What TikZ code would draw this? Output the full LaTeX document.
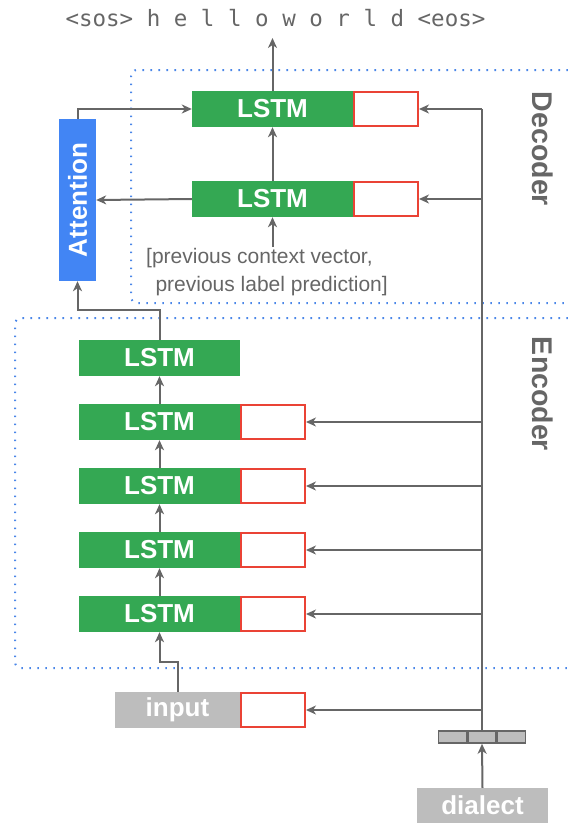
\documentclass[tikz,border=0pt]{standalone}
\usepackage{fontspec}
\setmainfont{Liberation Sans}
\newfontfamily\monofont{DejaVu Sans Mono}
\usetikzlibrary{arrows.meta}
\definecolor{lstmgreen}{HTML}{34A853}
\definecolor{attblue}{HTML}{4285F4}
\definecolor{boxred}{HTML}{EA4335}
\definecolor{inpgray}{HTML}{BDBDBD}
\definecolor{linegray}{HTML}{666666}
\definecolor{dotblue}{HTML}{4A86E8}
\tikzset{
  lstm/.style={fill=lstmgreen, text=white, minimum width=161pt, minimum height=36pt,
    inner sep=0pt, font=\fontsize{26}{30}\selectfont\bfseries},
  redbox/.style={draw=boxred, line width=1.8pt, fill=white, minimum width=64pt,
    minimum height=34.5pt, inner sep=0pt},
  graybox/.style={fill=inpgray, text=white, minimum height=36pt, inner sep=0pt,
    font=\fontsize{26}{30}\selectfont\bfseries},
  embcell/.style={draw=linegray, line width=1.6pt, fill=inpgray, minimum width=28pt,
    minimum height=12pt, inner sep=0pt},
  conn/.style={draw=linegray, line width=2pt, -{Stealth[length=10pt,width=9pt,inset=3pt]}},
  wire/.style={draw=linegray, line width=2pt},
  region/.style={draw=dotblue, line width=2pt, dash pattern=on 1.6pt off 6.4pt, rounded corners=6pt},
  sidelabel/.style={text=linegray, rotate=-90, font=\fontsize{28.5}{32}\selectfont\bfseries},
}
\begin{document}
\begin{tikzpicture}[x=1pt, y=-1pt]
\useasboundingbox (0,0) rectangle (568,823);

% dotted regions for decoder and encoder
\draw[region] (568,70) -- (131,70) -- (131,303) -- (568,303);
\draw[region] (568,318) -- (15,318) -- (15,668) -- (568,668);
\node[sidelabel] (declab) at (543,149) {Decoder};
\node[sidelabel] (enclab) at (543,394) {Encoder};

% output transcript
\node[text=linegray, font=\monofont\fontsize{22.5}{26}\selectfont, inner sep=0pt]
  (out) at (275.5,18) {<sos> h e l l o w o r l d <eos>};
\coordinate (outtip) at (272.5,38);

% decoder
\node[lstm] (dl1) at (272.5,109) {LSTM};
\node[redbox, anchor=west] (rd1) at (dl1.east) {};
\node[lstm] (dl2) at (272.5,199) {LSTM};
\node[redbox, anchor=west] (rd2) at (dl2.east) {};
\node[text=linegray, font=\fontsize{21}{28}\selectfont, align=left, inner sep=0pt]
  (ctx) at (267,272) {[previous context vector,\\\ \,previous label prediction]};
\coordinate (ctxtop) at (272.5,247);

% attention
\node[fill=attblue, text=white, minimum width=162pt, minimum height=37pt, inner sep=0pt,
  rotate=90, font=\fontsize{26}{30}\selectfont\bfseries] (att) at (77.5,200) {Attention};

% encoder stack
\node[lstm] (el0) at (159.5,358) {LSTM};
\node[lstm] (el1) at (159.5,422) {LSTM};
\node[redbox, anchor=west] (re1) at (el1.east) {};
\node[lstm] (el2) at (159.5,486) {LSTM};
\node[redbox, anchor=west] (re2) at (el2.east) {};
\node[lstm] (el3) at (159.5,550) {LSTM};
\node[redbox, anchor=west] (re3) at (el3.east) {};
\node[lstm] (el4) at (159.5,614) {LSTM};
\node[redbox, anchor=west] (re4) at (el4.east) {};

% input
\node[graybox, minimum width=125pt] (inp) at (177.5,710) {input};
\node[redbox, anchor=west] (rin) at (inp.east) {};

% dialect embedding
\node[embcell] (emb2) at (482,737) {};
\node[embcell, anchor=east] (emb1) at (emb2.west) {};
\node[embcell, anchor=west] (emb3) at (emb2.east) {};
\node[graybox, minimum width=131pt, minimum height=35pt] (dia) at (482.5,805.5) {dialect};

% decoder connections
\draw[conn] (dl1.north) -- (outtip);
\draw[conn] (dl2.north) -- (dl1.south);
\draw[conn] (ctxtop) -- (dl2.south);
\draw[conn] (att.east) |- (dl1.west);
\draw[conn] (dl2.west) -- (att.south);

% encoder to attention
\coordinate (encbend) at (159.5,310);
\draw[conn] (el0.north) -- (encbend) -| (att.west);

% encoder stack connections
\draw[conn] (el1.north) -- (el0.south);
\draw[conn] (el2.north) -- (el1.south);
\draw[conn] (el3.north) -- (el2.south);
\draw[conn] (el4.north) -- (el3.south);
\coordinate (inbend) at (177.5,662);
\draw[conn] (inp.north) -- (inbend) -| (el4.south);

% dialect bus
\draw[conn] (dia.north) -- (emb2.south);
\draw[wire] (emb2.north) -- (emb2.north |- rd1.east);
\foreach \b in {rd1,rd2,re1,re2,re3,re4,rin}
  \draw[conn] (emb2.north |- \b.east) -- (\b.east);
\end{tikzpicture}
\end{document}
